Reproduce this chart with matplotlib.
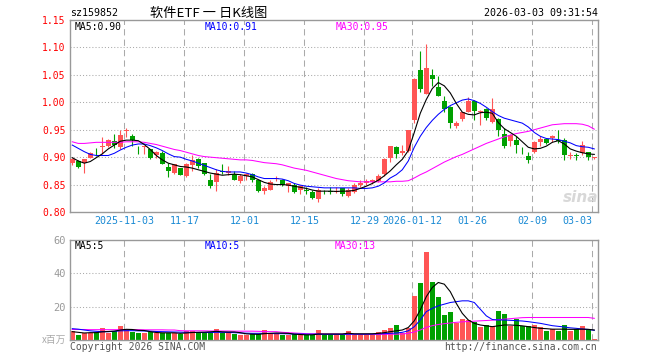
import numpy as np
import matplotlib
matplotlib.use('Agg')
import matplotlib.pyplot as plt

# daily candles (open / high / low / close), 88 trading days
opens = [0.890, 0.893, 0.890, 0.899, 0.917, 0.919, 0.920, 0.930, 0.919, 0.948,
         0.939, 0.915, 0.919, 0.914, 0.904, 0.908, 0.882, 0.871, 0.880, 0.866,
         0.886, 0.897, 0.889, 0.858, 0.855, 0.874, 0.872, 0.869, 0.856, 0.866,
         0.870, 0.858, 0.839, 0.841, 0.861, 0.858, 0.848, 0.849, 0.840, 0.840,
         0.836, 0.823, 0.837, 0.838, 0.836, 0.843, 0.830, 0.836, 0.849, 0.852,
         0.855, 0.857, 0.869, 0.898, 0.918, 0.907, 0.912, 0.968, 1.059, 1.016,
         1.050, 1.027, 1.002, 0.992, 0.957, 0.969, 0.983, 1.002, 0.982, 0.988,
         0.964, 0.970, 0.943, 0.929, 0.931, 0.910, 0.902, 0.909, 0.927, 0.933,
         0.935, 0.932, 0.932, 0.902, 0.904, 0.907, 0.909, 0.899]
highs = [0.899, 0.894, 0.897, 0.909, 0.917, 0.936, 0.933, 0.942, 0.950, 0.953,
         0.942, 0.920, 0.921, 0.914, 0.912, 0.911, 0.890, 0.888, 0.881, 0.889,
         0.903, 0.898, 0.890, 0.870, 0.878, 0.888, 0.884, 0.875, 0.869, 0.872,
         0.871, 0.861, 0.848, 0.858, 0.865, 0.861, 0.853, 0.853, 0.850, 0.846,
         0.840, 0.843, 0.841, 0.845, 0.845, 0.844, 0.843, 0.852, 0.859, 0.860,
         0.861, 0.869, 0.898, 0.921, 0.920, 0.923, 0.950, 1.044, 1.093, 1.106,
         1.061, 1.048, 1.012, 0.994, 0.966, 0.983, 1.009, 1.005, 0.986, 0.990,
         1.008, 0.971, 0.953, 0.942, 0.938, 0.918, 0.910, 0.929, 0.939, 0.935,
         0.941, 0.949, 0.935, 0.909, 0.907, 0.929, 0.910, 0.901]
lows = [0.885, 0.880, 0.872, 0.898, 0.902, 0.905, 0.919, 0.916, 0.914, 0.937,
        0.920, 0.905, 0.905, 0.897, 0.898, 0.888, 0.864, 0.870, 0.867, 0.864,
        0.875, 0.880, 0.867, 0.843, 0.838, 0.870, 0.867, 0.858, 0.852, 0.858,
        0.855, 0.836, 0.832, 0.840, 0.856, 0.848, 0.836, 0.835, 0.833, 0.833,
        0.823, 0.818, 0.832, 0.833, 0.835, 0.830, 0.827, 0.835, 0.846, 0.849,
        0.851, 0.855, 0.866, 0.892, 0.898, 0.903, 0.909, 0.963, 1.018, 1.016,
        1.030, 1.011, 0.982, 0.954, 0.954, 0.966, 0.982, 0.967, 0.959, 0.968,
        0.962, 0.938, 0.917, 0.920, 0.907, 0.906, 0.890, 0.907, 0.920, 0.924,
        0.927, 0.926, 0.895, 0.896, 0.895, 0.904, 0.894, 0.897]
closes = [0.897, 0.882, 0.896, 0.908, 0.916, 0.921, 0.932, 0.922, 0.941, 0.949,
          0.931, 0.914, 0.920, 0.899, 0.909, 0.888, 0.874, 0.888, 0.868, 0.887,
          0.894, 0.883, 0.869, 0.848, 0.872, 0.873, 0.875, 0.858, 0.865, 0.869,
          0.858, 0.838, 0.844, 0.855, 0.862, 0.849, 0.853, 0.836, 0.847, 0.839,
          0.825, 0.841, 0.836, 0.837, 0.838, 0.832, 0.841, 0.849, 0.852, 0.857,
          0.858, 0.865, 0.897, 0.920, 0.906, 0.912, 0.949, 1.043, 1.024, 1.062,
          1.042, 1.012, 0.988, 0.963, 0.963, 0.982, 1.002, 0.984, 0.985, 0.971,
          0.987, 0.949, 0.920, 0.941, 0.923, 0.909, 0.894, 0.927, 0.933, 0.926,
          0.938, 0.929, 0.904, 0.903, 0.902, 0.923, 0.900, 0.901]

# moving averages of price
ma5 = [0.899, 0.893, 0.889, 0.892, 0.899, 0.906, 0.915, 0.922, 0.929, 0.931,
       0.931, 0.930, 0.923, 0.914, 0.903, 0.895, 0.889, 0.886, 0.883, 0.882,
       0.880, 0.877, 0.874, 0.871, 0.869, 0.867, 0.868, 0.869, 0.868, 0.866,
       0.864, 0.859, 0.854, 0.851, 0.850, 0.850, 0.849, 0.847, 0.845, 0.843,
       0.840, 0.838, 0.838, 0.838, 0.8375, 0.838, 0.838, 0.8395, 0.843, 0.847,
       0.852, 0.858, 0.866, 0.875, 0.886, 0.896, 0.912, 0.945, 0.980, 1.005,
       1.025, 1.036, 1.030, 1.017, 0.998, 0.982, 0.978, 0.977, 0.981, 0.982,
       0.980, 0.963, 0.952, 0.945, 0.938, 0.928, 0.918, 0.915, 0.916, 0.920,
       0.927, 0.930, 0.924, 0.915, 0.911, 0.908, 0.906, 0.905]
ma10 = [0.922, 0.916, 0.910, 0.905, 0.903, 0.903, 0.903, 0.907, 0.913, 0.918,
        0.922, 0.924, 0.924, 0.921, 0.917, 0.912, 0.906, 0.901, 0.900, 0.896,
        0.893, 0.889, 0.885, 0.881, 0.877, 0.874, 0.873, 0.873, 0.873, 0.871,
        0.868, 0.864, 0.861, 0.861, 0.861, 0.860, 0.857, 0.852, 0.849, 0.847,
        0.846, 0.845, 0.844, 0.844, 0.844, 0.844, 0.844, 0.844, 0.843, 0.843,
        0.844, 0.847, 0.853, 0.862, 0.868, 0.877, 0.893, 0.918, 0.938, 0.954,
        0.967, 0.978, 0.987, 0.994, 0.999, 1.004, 1.006, 1.003, 0.998, 0.991,
        0.983, 0.976, 0.971, 0.968, 0.965, 0.962, 0.955, 0.945, 0.938, 0.934,
        0.933, 0.932, 0.929, 0.926, 0.921, 0.919, 0.918, 0.915]
ma30 = [0.928, 0.925, 0.925, 0.926, 0.927, 0.927, 0.927, 0.927, 0.927, 0.928,
        0.928, 0.928, 0.927, 0.925, 0.923, 0.920, 0.917, 0.914, 0.912, 0.909,
        0.906, 0.903, 0.901, 0.900, 0.899, 0.898, 0.897, 0.896, 0.895, 0.895,
        0.894, 0.892, 0.890, 0.889, 0.888, 0.886, 0.883, 0.880, 0.878, 0.876,
        0.873, 0.870, 0.867, 0.864, 0.861, 0.859, 0.857, 0.856, 0.855, 0.855,
        0.855, 0.855, 0.855, 0.855, 0.856, 0.856, 0.857, 0.862, 0.868, 0.873,
        0.879, 0.885, 0.891, 0.896, 0.901, 0.905, 0.910, 0.915, 0.920, 0.925,
        0.929, 0.933, 0.937, 0.940, 0.943, 0.945, 0.947, 0.950, 0.953, 0.956,
        0.959, 0.960, 0.961, 0.961, 0.961, 0.960, 0.957, 0.951]

# volume in millions
volume = [5.4, 3.0, 4.4, 4.4, 5.0, 7.2, 4.4, 5.4, 8.4, 6.6,
          5.0, 4.0, 4.4, 5.0, 4.0, 4.0, 4.0, 4.4, 3.4, 5.4,
          5.4, 4.4, 4.4, 5.0, 6.6, 4.4, 4.4, 3.6, 3.0, 3.0,
          3.6, 3.6, 6.0, 4.0, 4.0, 3.0, 3.0, 3.4, 3.0, 3.0,
          3.0, 6.0, 3.0, 3.0, 3.2, 3.0, 5.4, 3.0, 3.0, 3.0,
          3.0, 5.0, 6.0, 7.0, 9.0, 4.0, 7.0, 26.4, 34.4, 52.8,
          34.8, 26.0, 15.0, 17.0, 10.4, 12.6, 12.0, 10.6, 7.6, 9.0,
          8.4, 17.4, 15.6, 8.4, 12.4, 8.4, 8.4, 9.0, 7.6, 5.4,
          6.4, 5.4, 9.0, 5.4, 6.6, 8.4, 6.4, 0.8]
vol_ma5 = [5.0, 4.6, 4.2, 4.4, 4.4, 4.9, 5.1, 5.3, 6.0, 6.4,
           6.3, 5.8, 5.7, 5.0, 4.5, 4.3, 4.3, 4.3, 4.0, 4.2,
           4.5, 4.6, 4.7, 4.9, 5.2, 4.9, 4.8, 4.8, 4.4, 3.7,
           3.5, 3.4, 3.8, 4.0, 4.2, 4.1, 4.0, 3.5, 3.3, 3.1,
           3.1, 3.6, 3.6, 3.6, 3.6, 3.6, 4.1, 3.7, 3.7, 3.7,
           3.7, 4.0, 4.4, 5.0, 5.5, 6.0, 7.5, 11.5, 18.0, 26.0,
           31.5, 34.5, 33.5, 29.0, 22.0, 16.0, 12.0, 10.0, 9.0, 8.5,
           8.0, 8.5, 9.0, 9.0, 8.8, 8.5, 8.0, 7.5, 7.0, 6.8,
           6.5, 6.5, 6.5, 6.4, 6.4, 6.5, 6.4, 6.0]
vol_ma10 = [6.8, 6.5, 6.0, 5.5, 5.2, 5.0, 5.0, 5.2, 5.5, 5.6,
            5.6, 5.5, 5.4, 5.3, 5.1, 5.0, 4.9, 4.8, 4.7, 4.6,
            4.5, 4.5, 4.5, 4.5, 4.6, 4.6, 4.5, 4.4, 4.2, 4.1,
            4.0, 4.0, 4.0, 3.9, 3.8, 3.8, 3.7, 3.6, 3.6, 3.5,
            3.5, 3.5, 3.4, 3.4, 3.4, 3.4, 3.5, 3.5, 3.5, 3.5,
            3.6, 3.7, 3.8, 4.0, 4.2, 4.6, 5.5, 8.0, 12.0, 17.0,
            19.0, 20.5, 21.5, 22.5, 23.0, 23.5, 23.5, 22.5, 18.5, 14.5,
            12.3, 12.0, 12.0, 11.8, 11.6, 11.4, 11.0, 10.5, 10.0, 9.3,
            8.6, 8.2, 7.8, 7.3, 7.0, 6.6, 6.3, 5.8]
vol_ma30 = [6.3, 6.3, 6.3, 6.2, 6.2, 6.2, 6.2, 6.2, 6.2, 6.2,
            6.2, 6.2, 6.1, 6.1, 6.1, 6.1, 6.0, 6.0, 5.6, 5.5,
            5.5, 5.5, 5.5, 5.4, 5.4, 5.4, 5.4, 5.3, 5.3, 5.3,
            5.3, 5.2, 5.1, 5.0, 5.0, 4.6, 4.4, 4.2, 4.0, 3.8,
            3.7, 3.7, 3.6, 3.6, 3.6, 3.5, 3.5, 3.5, 3.4, 3.4,
            3.4, 3.4, 3.4, 3.5, 3.5, 3.6, 4.0, 4.8, 6.0, 7.6,
            8.6, 9.3, 9.8, 10.2, 10.6, 10.9, 11.1, 11.3, 11.5, 11.7,
            11.9, 12.2, 12.5, 12.8, 13.1, 13.4, 13.5, 13.5, 13.5, 13.5,
            13.5, 13.5, 13.5, 13.5, 13.5, 13.5, 13.5, 13.0]

# date ticks (index of trading day) and labels
tick_idx = [9, 19, 29, 39, 49, 57, 67, 77, 87]
tick_labels = ['2025-11-03', '11-17', '12-01', '12-15', '12-29',
               '2026-01-12', '01-26', '02-09', '03-03']
price_ticks = [0.80, 0.85, 0.90, 0.95, 1.00, 1.05, 1.10, 1.15]
vol_ticks = [20, 40, 60]

RED = '#ff5555'
GREEN = '#00a000'
GRID = '#aaaaaa'
FRAME = '#999999'
MONO = 'DejaVu Sans Mono'
CJK = ['Noto Sans CJK SC', 'DejaVu Sans']

W, H = 660, 360


def fpos(x, y):
    # pixel position -> figure fraction
    return x / W, 1 - y / H


fig = plt.figure(figsize=(6.6, 3.6), dpi=100)
fig.patch.set_facecolor('white')

ax1 = fig.add_axes([70 / W, 1 - 212 / H, 528 / W, 192 / H])
ax2 = fig.add_axes([70 / W, 1 - 340 / H, 528 / W, 100 / H])

x = np.arange(len(closes))
o = np.array(opens)
c = np.array(closes)
up = c >= o
colors = [RED if u else GREEN for u in up]

# gridlines sit a third of a day left of the candle
grid_x = [t - 0.33 for t in tick_idx]

for ax in (ax1, ax2):
    ax.set_xlim(-0.38, 87.62)
    for gx in grid_x:
        ax.axvline(gx, color=GRID, lw=0.75, linestyle=(0, (6, 4)), zorder=0)
    for s in ax.spines.values():
        s.set_color(FRAME)
        s.set_linewidth(1.0)
    ax.tick_params(length=0)

# --- price panel
ax1.set_ylim(0.80, 1.15)
for p in price_ticks[1:-1]:
    ax1.axhline(p, color=GRID, lw=0.75, linestyle=(0, (1, 2)), zorder=0)

ax1.vlines(x, lows, highs, colors=colors, lw=0.8, zorder=2)
body_h = np.maximum(np.abs(c - o), 0.0012)
ax1.bar(x, body_h, bottom=np.minimum(o, c), width=0.82, color=colors, lw=0, zorder=3)

ax1.plot(x, ma30, color='#ff00ff', lw=0.75, zorder=4)
ax1.plot(x, ma10, color='#0000ff', lw=0.75, zorder=4)
ax1.plot(x, ma5, color='black', lw=0.8, zorder=5)

ax1.set_yticks(price_ticks)
ax1.set_yticklabels(['%.2f' % p for p in price_ticks], color='red',
                    fontsize=7, family=MONO)
ax1.tick_params(axis='y', pad=3)
ax1.set_xticks(grid_x)
labs = ax1.set_xticklabels(tick_labels, color='#1a8ad4', fontsize=7.2, family=MONO)
labs[-1].set_horizontalalignment('right')
ax1.tick_params(axis='x', pad=3)

# --- volume panel
ax2.set_ylim(0, 60)
for v in vol_ticks[:-1]:
    ax2.axhline(v, color=GRID, lw=0.75, linestyle=(0, (1, 2)), zorder=0)
ax2.bar(x, volume, width=0.83, color=colors, lw=0, zorder=2)
ax2.plot(x, vol_ma30, color='#ff00ff', lw=0.75, zorder=4)
ax2.plot(x, vol_ma10, color='#0000ff', lw=0.75, zorder=4)
ax2.plot(x, vol_ma5, color='black', lw=0.8, zorder=5)
ax2.set_yticks(vol_ticks)
ax2.set_yticklabels([str(v) for v in vol_ticks], color='#999999',
                    fontsize=7.5, family=MONO)
ax2.tick_params(axis='y', pad=3)
ax2.set_xticks([])

# --- header texts
fig.text(*fpos(70, 13), 'sz159852', fontsize=7.2, family=MONO, va='center')
fig.text(*fpos(150, 13), '软件ETF 一 日K线图', fontsize=9.5, family=CJK, va='center')
fig.text(*fpos(598, 13), '2026-03-03 09:31:54', fontsize=7.2, family=MONO,
         va='center', ha='right')

# MA legends
fig.text(*fpos(75, 27), 'MA5:0.90', fontsize=7, family=MONO, va='center')
fig.text(*fpos(205, 27), 'MA10:0.91', fontsize=7, family=MONO, va='center', color='#0000ff')
fig.text(*fpos(336, 27), 'MA30:0.95', fontsize=7, family=MONO, va='center', color='#ff00ff')
fig.text(*fpos(75, 246), 'MA5:5', fontsize=7, family=MONO, va='center')
fig.text(*fpos(205, 246), 'MA10:5', fontsize=7, family=MONO, va='center', color='#0000ff')
fig.text(*fpos(335, 246), 'MA30:13', fontsize=7, family=MONO, va='center', color='#ff00ff')

# footer
fig.text(*fpos(66, 340), 'x百万', fontsize=7, family=CJK, va='center', ha='right', color='#aaaaaa')
fig.text(*fpos(70, 347), 'Copyright 2026 SINA.COM', fontsize=7, family=MONO,
         va='center', color='#555555')
fig.text(*fpos(597, 347), 'http://finance.sina.com.cn', fontsize=7, family=MONO,
         va='center', ha='right', color='#555555')

# watermark
fig.text(*fpos(581, 197), 'sina', fontsize=11, weight='bold', style='italic',
         ha='center', va='center', color='#d8d8d8', zorder=0)

fig.savefig('out.png', dpi=100)
